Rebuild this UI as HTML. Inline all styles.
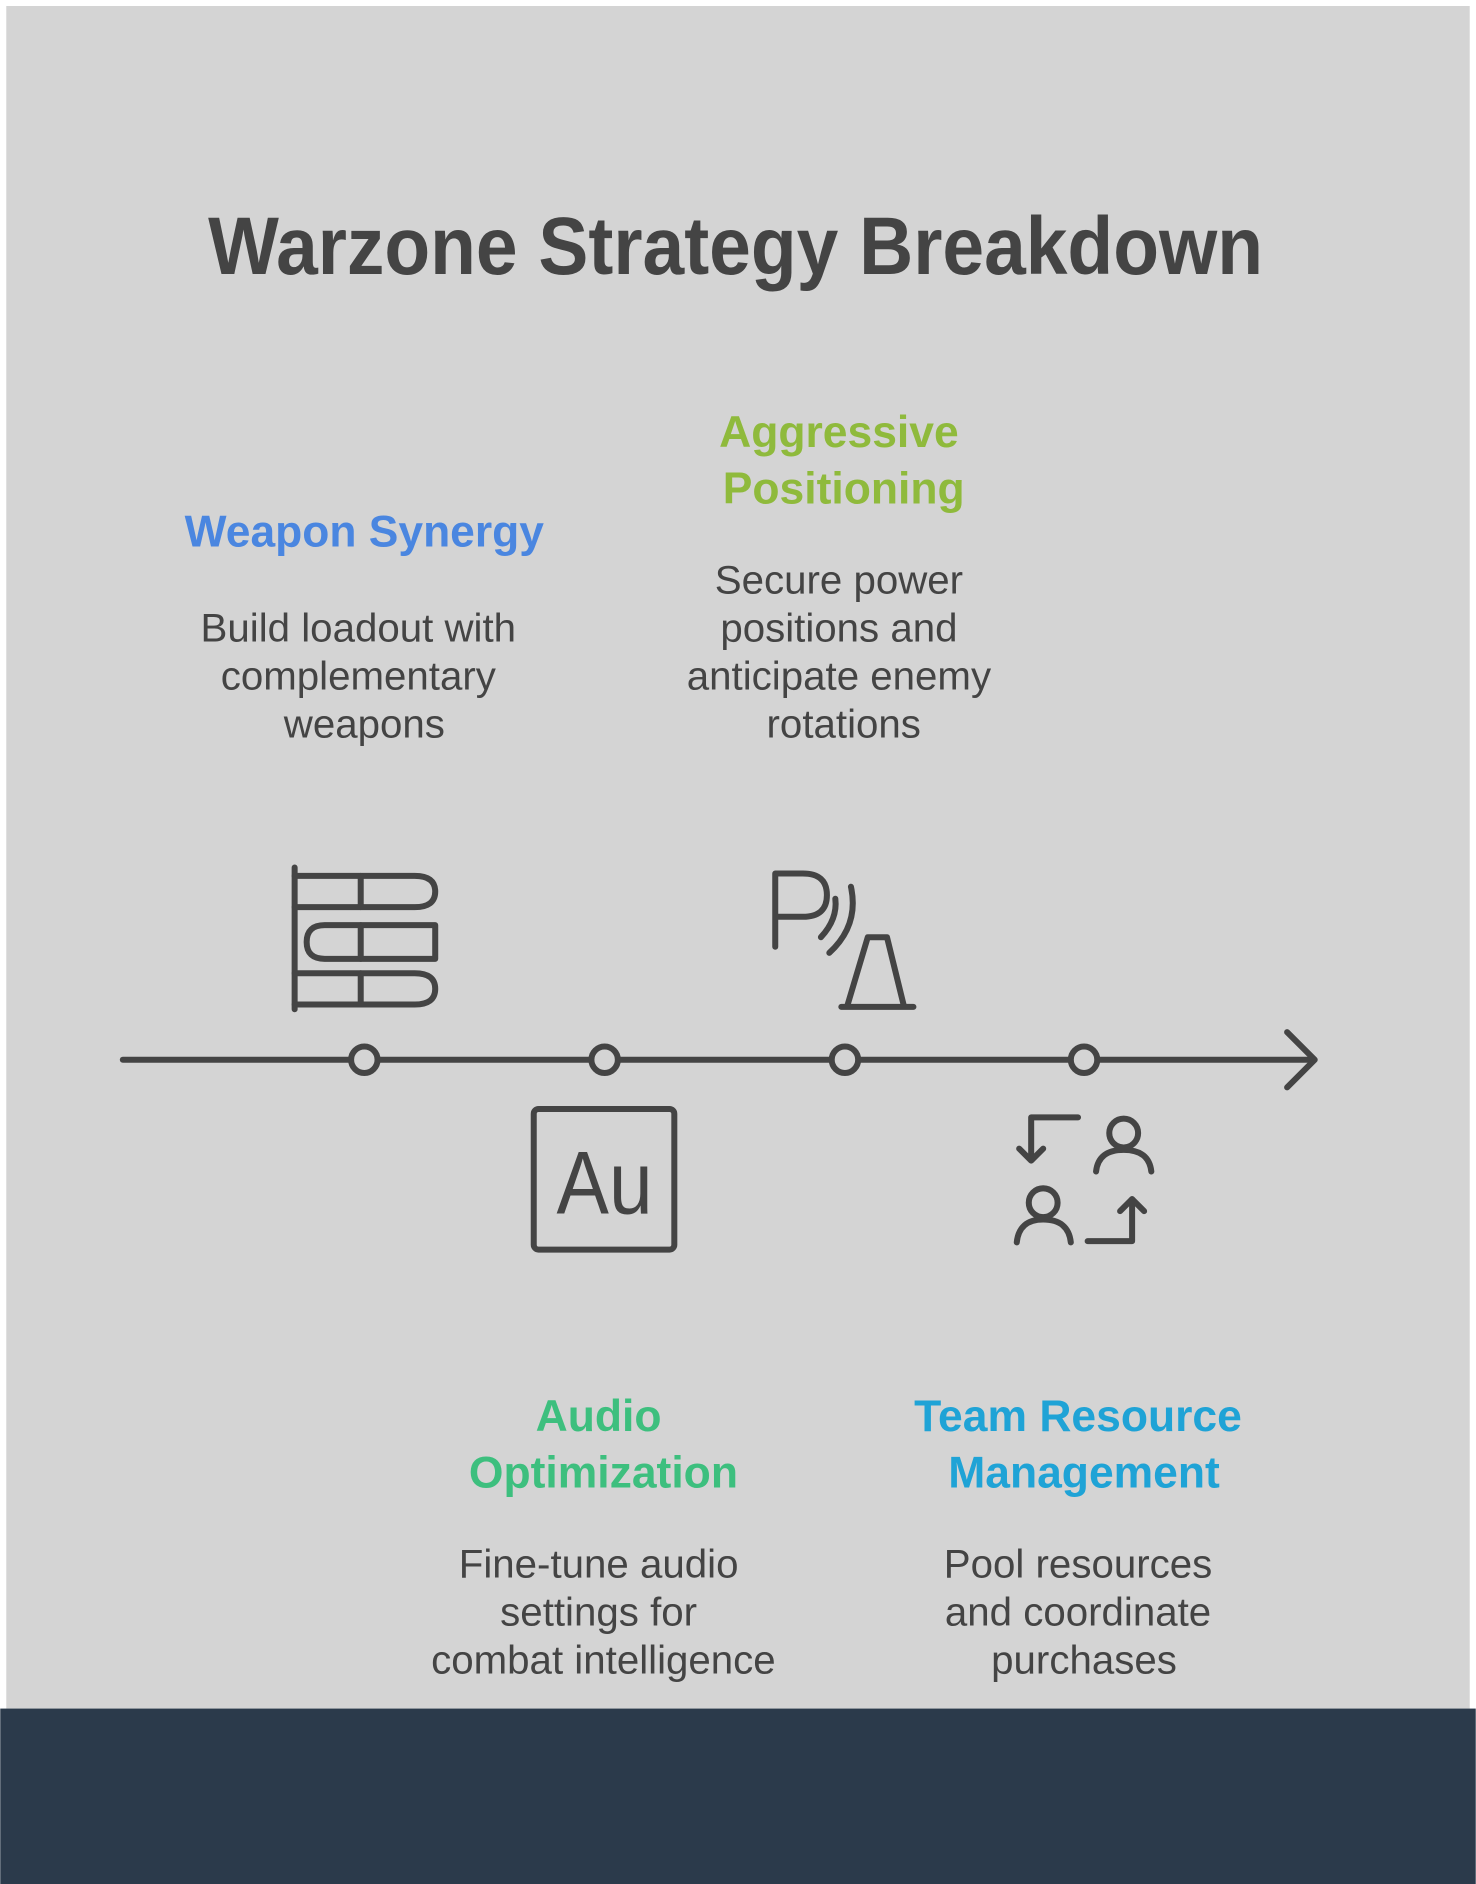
<!DOCTYPE html>
<html><head><meta charset="utf-8"><style>
html,body{margin:0;padding:0;background:#fff;}
svg{display:block;}
</style></head><body>
<svg width="1476" height="1884" viewBox="0 0 1228 1568" xmlns="http://www.w3.org/2000/svg" font-family="'Liberation Sans', sans-serif">
<rect x="0" y="0" width="1228" height="1568" fill="#ffffff"/>
<rect x="5" y="5" width="1218" height="1417" fill="#d4d4d4"/>
<rect x="0" y="1422" width="1228" height="146" fill="#2b3a4b"/>

<text x="612" y="228" text-anchor="middle" font-size="68" font-weight="bold" fill="#444" textLength="878" lengthAdjust="spacingAndGlyphs">Warzone Strategy Breakdown</text>

<g stroke="#444" stroke-width="5" fill="none" stroke-linecap="round" stroke-linejoin="round">
<line x1="102" y1="882" x2="1093" y2="882"/>
<polyline points="1071,859 1094,882 1071,905"/>
<circle cx="303" cy="882" r="11" fill="#d4d4d4"/>
<circle cx="503" cy="882" r="11" fill="#d4d4d4"/>
<circle cx="703" cy="882" r="11" fill="#d4d4d4"/>
<circle cx="902" cy="882" r="11" fill="#d4d4d4"/>

<line x1="245" y1="722" x2="245" y2="840"/>
<path d="M245,729 H345 Q362,729 362,742 Q362,755 345,755 H245"/>
<line x1="300" y1="729" x2="300" y2="755"/>
<path d="M270,770 H362 V798 H270 Q255,798 255,784 Q255,770 270,770 Z"/>
<line x1="300" y1="770" x2="300" y2="798"/>
<path d="M245,810 H345 Q362,810 362,823 Q362,836 345,836 H245"/>
<line x1="300" y1="810" x2="300" y2="836"/>

<path d="M645,788 V727 H668 Q688,727 688,745 Q688,763 668,763 H645"/>
<path d="M683,780 Q697,765 695,748"/>
<path d="M690,793 Q715,770 708,738"/>
<path d="M705,837 L722,780 H738 L752,837"/>
<line x1="700" y1="838" x2="760" y2="838"/>

<rect x="444" y="923" width="117" height="117" rx="4"/>

<circle cx="935" cy="943" r="12"/>
<path d="M912,975 Q914,957 935,957 Q956,957 958,975"/>
<circle cx="868" cy="1001" r="12"/>
<path d="M846,1034 Q848,1015 868,1015 Q889,1015 891,1034"/>
<path d="M897,930 H858 V965"/>
<polyline points="848,956 858,966 868,956"/>
<path d="M905,1033 H942 V998"/>
<polyline points="932,1008 942,998 952,1008"/>
</g>
<text x="503" y="1010" text-anchor="middle" font-size="74" fill="#444" textLength="80" lengthAdjust="spacingAndGlyphs">Au</text>

<g text-anchor="middle" font-weight="bold" font-size="37">
<text x="303" y="455" fill="#4a86e0" textLength="299" lengthAdjust="spacingAndGlyphs">Weapon Synergy</text>
<text x="698" y="372" fill="#8fba3c">Aggressive</text>
<text x="702" y="419" fill="#8fba3c">Positioning</text>
<text x="498" y="1191" fill="#3dbf7e">Audio</text>
<text x="502" y="1238" fill="#3dbf7e">Optimization</text>
<text x="897" y="1191" fill="#1fa3d6">Team Resource</text>
<text x="902" y="1238" fill="#1fa3d6">Management</text>
</g>
<g text-anchor="middle" font-size="33.5" fill="#444">
<text x="298" y="534">Build loadout with</text>
<text x="298" y="574">complementary</text>
<text x="303" y="614">weapons</text>
<text x="698" y="494">Secure power</text>
<text x="698" y="534">positions and</text>
<text x="698" y="574">anticipate enemy</text>
<text x="702" y="614">rotations</text>
<text x="498" y="1313">Fine-tune audio</text>
<text x="498" y="1353">settings for</text>
<text x="502" y="1393">combat intelligence</text>
<text x="897" y="1313">Pool resources</text>
<text x="897" y="1353">and coordinate</text>
<text x="902" y="1393">purchases</text>
</g>
</svg>
</body></html>
